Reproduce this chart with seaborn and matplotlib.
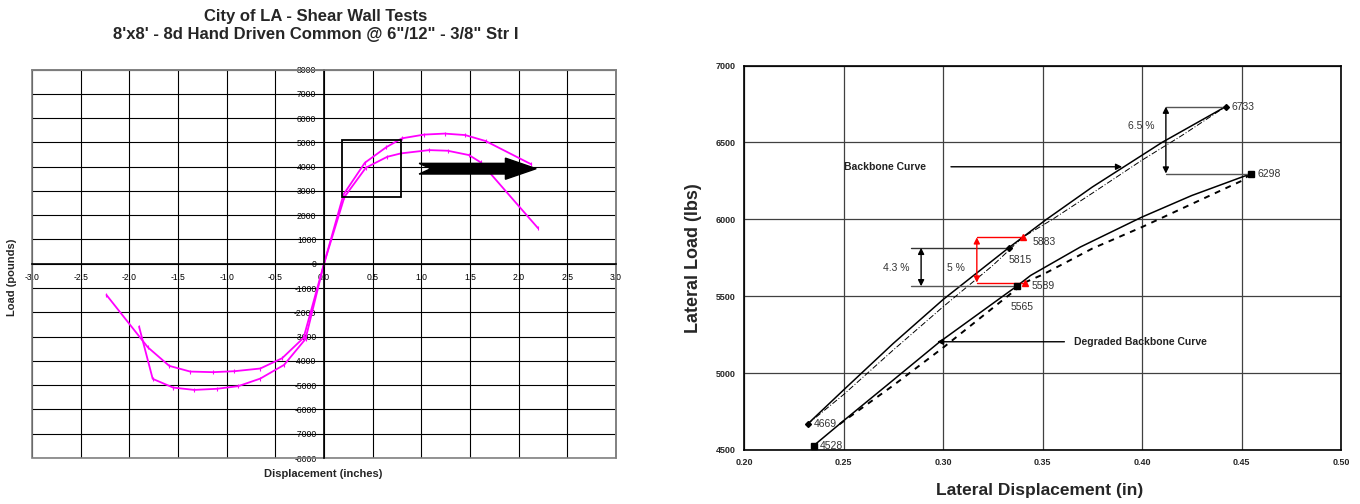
import matplotlib
matplotlib.use("Agg")
import matplotlib.pyplot as plt
import seaborn as sns
from matplotlib.patches import Rectangle, Polygon
from matplotlib.ticker import MultipleLocator, FormatStrFormatter

# -----------------------------
# Data: left chart (hysteresis envelopes, magenta)
# -----------------------------
outer_disp = [-1.90, -1.76, -1.55, -1.335, -1.10, -0.88, -0.655, -0.41, -0.19, 0.0,
              0.20, 0.42, 0.64, 0.80, 1.03, 1.24, 1.45, 1.66, 2.13]
outer_load = [-2590, -4740, -5100, -5195, -5150, -5040, -4730, -4165, -3100, 0,
              2850, 4160, 4800, 5165, 5320, 5360, 5300, 5055, 4095]
inner_disp = [-2.235, -1.81, -1.59, -1.375, -1.14, -0.92, -0.655, -0.43, -0.21, 0.0,
              0.21, 0.43, 0.65, 0.79, 1.08, 1.27, 1.49, 1.61, 2.20]
inner_load = [-1285, -3440, -4205, -4440, -4465, -4425, -4315, -3890, -3050, 0,
              2750, 3955, 4405, 4545, 4680, 4655, 4475, 4175, 1460]

# -----------------------------
# Data: right chart (backbone curves)
# -----------------------------
bb_disp = [0.232, 0.25, 0.275, 0.30, 0.333, 0.352, 0.375, 0.40, 0.41, 0.442]
bb_load = [4669, 4890, 5193, 5478, 5815, 6000, 6210, 6417, 6500, 6733]
bb_fit_disp = [0.232, 0.25, 0.275, 0.30, 0.325, 0.34, 0.355, 0.375, 0.40, 0.42, 0.442]
bb_fit_load = [4669, 4860, 5150, 5431, 5700, 5883, 6000, 6170, 6385, 6545, 6733]
deg_disp = [0.235, 0.25, 0.275, 0.298, 0.337, 0.344, 0.369, 0.40, 0.425, 0.455]
deg_load = [4528, 4690, 4955, 5200, 5565, 5635, 5820, 6015, 6155, 6298]
deg_fit_disp = [0.248, 0.275, 0.30, 0.341, 0.35, 0.375, 0.40, 0.425, 0.45, 0.454]
deg_fit_load = [4668, 4920, 5165, 5589, 5640, 5810, 5950, 6100, 6250, 6290]

bb_pts_x = [0.232, 0.333, 0.442]
bb_pts_y = [4669, 5815, 6733]
deg_pts_x = [0.235, 0.337, 0.455]
deg_pts_y = [4528, 5565, 6298]
fit_pts_x = [0.340, 0.341]
fit_pts_y = [5883, 5589]

sns.set_style("white")
plt.rcParams["font.family"] = ["Liberation Sans", "DejaVu Sans"]

fig = plt.figure(figsize=(13.6, 5.04), dpi=100)

# -----------------------------
# Left chart
# -----------------------------
ax1 = fig.add_axes([32 / 1360, 1 - 458 / 504, 584 / 1360, 388.5 / 504])
for xs, ys in [(outer_disp, outer_load), (inner_disp, inner_load)]:
    sns.lineplot(x=xs, y=ys, sort=False, estimator=None, ax=ax1,
                 color="#FF00FF", lw=1.3, marker="|", markersize=3,
                 markeredgecolor="#FF00FF", markeredgewidth=0.8)

ax1.set_xlim(-3, 3)
ax1.set_ylim(-8000, 8000)
ax1.xaxis.set_major_locator(MultipleLocator(0.5))
ax1.xaxis.set_minor_locator(MultipleLocator(0.1))
ax1.yaxis.set_major_locator(MultipleLocator(1000))
ax1.yaxis.set_minor_locator(MultipleLocator(500))
ax1.xaxis.set_major_formatter(FormatStrFormatter("%.1f"))
ax1.yaxis.set_major_formatter(FormatStrFormatter("%d"))
ax1.grid(which="major", color="black", lw=0.8)
ax1.set_axisbelow(True)
for s in ["left", "bottom"]:
    ax1.spines[s].set_position(("data", 0))
    ax1.spines[s].set_color("black")
    ax1.spines[s].set_linewidth(1.2)
for s in ["top", "right"]:
    ax1.spines[s].set_color("#808080")
    ax1.spines[s].set_linewidth(1.2)
ax1.add_patch(Rectangle((0, 0), 1, 1, transform=ax1.transAxes, fill=False,
                        ec="#808080", lw=1.2, clip_on=False))
ax1.tick_params(which="major", direction="inout", length=5, width=1,
                labelsize=6.2, color="black", labelcolor="black")
ax1.tick_params(axis="y", which="major", pad=3)
ax1.tick_params(axis="x", which="major", pad=4)
ax1.tick_params(which="minor", direction="inout", length=4, width=1, color="black")
ax1.set_xlabel("")
ax1.set_ylabel("")

# zoom box and big arrow
ax1.add_patch(Rectangle((0.187, 2737), 0.602, 2358, fill=False, ec="black", lw=1.3, zorder=4))
x0, x1, yc, bh, hh, hl, notch = 0.977, 2.18, 3915, 220, 435, 0.316, 0.12
ax1.add_patch(Polygon([(x0, yc + bh), (x1 - hl, yc + bh), (x1 - hl, yc + hh), (x1, yc),
                       (x1 - hl, yc - hh), (x1 - hl, yc - bh), (x0, yc - bh),
                       (x0 + notch, yc)], closed=True, fc="black", ec="black", zorder=5))

fig.text(316 / 1360, 1 - 16 / 504, "City of LA - Shear Wall Tests",
         ha="center", va="center", fontsize=12, fontweight="bold")
fig.text(316 / 1360, 1 - 35 / 504,
         "8'x8' - 8d Hand Driven Common @ 6\"/12\" - 3/8\" Str I",
         ha="center", va="center", fontsize=12, fontweight="bold")
fig.text(12 / 1360, 1 - 277 / 504, "Load (pounds)", rotation=90, ha="center",
         va="center", fontsize=8, fontweight="bold")
fig.text(323 / 1360, 1 - 474 / 504, "Displacement (inches)", ha="center",
         va="center", fontsize=8, fontweight="bold")

# -----------------------------
# Right chart
# -----------------------------
ax2 = fig.add_axes([744 / 1360, 1 - 450 / 504, 597 / 1360, 384.4 / 504])
sns.lineplot(x=bb_disp, y=bb_load, sort=False, estimator=None, ax=ax2,
             color="black", lw=1.1)
sns.lineplot(x=bb_fit_disp, y=bb_fit_load, sort=False, estimator=None, ax=ax2,
             color="black", lw=0.7, linestyle=(0, (6, 2, 1, 2)))
sns.lineplot(x=deg_disp, y=deg_load, sort=False, estimator=None, ax=ax2,
             color="black", lw=1.1)
sns.lineplot(x=deg_fit_disp, y=deg_fit_load, sort=False, estimator=None, ax=ax2,
             color="black", lw=1.4, linestyle=(0, (3, 3)))
ax2.plot(bb_pts_x, bb_pts_y, "D", color="black", ms=3, zorder=5)
ax2.plot(deg_pts_x, deg_pts_y, "s", color="black", ms=5, zorder=5)
ax2.plot(fit_pts_x, fit_pts_y, "^", color="red", ms=5, zorder=5)

ax2.set_xlim(0.2, 0.5)
ax2.set_ylim(4500, 7000)
ax2.xaxis.set_major_locator(MultipleLocator(0.05))
ax2.yaxis.set_major_locator(MultipleLocator(500))
ax2.xaxis.set_major_formatter(FormatStrFormatter("%.2f"))
ax2.grid(which="major", color="#404040", lw=0.9)
ax2.set_axisbelow(True)
for s in ax2.spines.values():
    s.set_color("black")
    s.set_linewidth(1.2)
ax2.tick_params(direction="out", length=3, width=1, labelsize=6.5, pad=3)
for lab in ax2.get_xticklabels() + ax2.get_yticklabels():
    lab.set_fontweight("bold")
ax2.set_xlabel("")
ax2.set_ylabel("")

txt = dict(fontsize=7.5, color="#333333", va="center")
for x, y, s in [(0.445, 6733, "6733"), (0.458, 6298, "6298"), (0.235, 4669, "4669"),
                (0.238, 4528, "4528"), (0.333, 5737, "5815"), (0.345, 5855, "5883"),
                (0.3446, 5565, "5589"), (0.334, 5433, "5565"), (0.393, 6606, "6.5 %"),
                (0.302, 5685, "5 %"), (0.270, 5683, "4.3 %")]:
    ax2.text(x, y, s, **txt)

dbl = dict(arrowstyle="<|-|>", color="black", lw=1.0, mutation_scale=9, shrinkA=0, shrinkB=0)
ax2.annotate("", xy=(0.412, 6733), xytext=(0.412, 6298), arrowprops=dbl)
ax2.plot([0.412, 0.442], [6733, 6733], color="#555555", lw=1)
ax2.plot([0.412, 0.455], [6298, 6298], color="#555555", lw=1)
ax2.annotate("", xy=(0.289, 5815), xytext=(0.289, 5565), arrowprops=dbl)
ax2.plot([0.284, 0.333], [5815, 5815], color="#333333", lw=1)
ax2.plot([0.284, 0.337], [5565, 5565], color="#555555", lw=1)
red = dict(dbl, color="red")
ax2.annotate("", xy=(0.317, 5883), xytext=(0.317, 5589), arrowprops=red)
ax2.plot([0.317, 0.340], [5883, 5883], color="red", lw=1)
ax2.plot([0.317, 0.341], [5589, 5589], color="red", lw=1)

ax2.text(0.250, 6342, "Backbone Curve", fontsize=7.5, fontweight="bold",
         color="#222222", va="center")
ax2.annotate("", xy=(0.39, 6342), xytext=(0.304, 6342),
             arrowprops=dict(arrowstyle="-|>", color="black", lw=1.0,
                             mutation_scale=9, shrinkA=0, shrinkB=0))
ax2.text(0.366, 5204, "Degraded Backbone Curve", fontsize=7.5, fontweight="bold",
         color="#222222", va="center")
ax2.annotate("", xy=(0.297, 5204), xytext=(0.361, 5204),
             arrowprops=dict(arrowstyle="-|>", color="black", lw=1.0,
                             mutation_scale=9, shrinkA=0, shrinkB=0))

fig.text(693 / 1360, 1 - 258 / 504, "Lateral Load (lbs)", rotation=90, ha="center",
         va="center", fontsize=13, fontweight="bold")
fig.text(1040 / 1360, 1 - 490 / 504, "Lateral Displacement (in)", ha="center",
         va="center", fontsize=12.5, fontweight="bold")

fig.savefig("out.png", dpi=100)
